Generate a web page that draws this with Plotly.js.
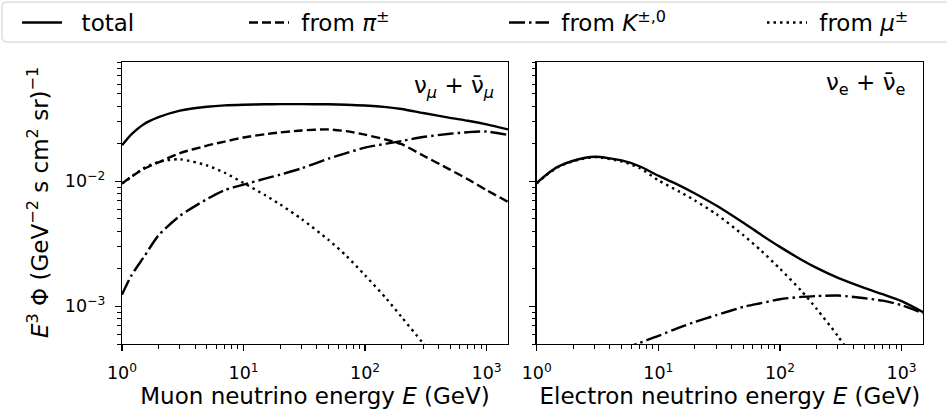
<!DOCTYPE html>
<html>
<head>
<meta charset="utf-8">
<script src="https://cdn.plot.ly/plotly-3.0.1.min.js"></script>
<style>
html, body { margin: 0; padding: 0; background: #ffffff; }
#chart { width: 947px; height: 417px; }
</style>
</head>
<body>
<div id="chart"></div>
<script>
// ---- data ----
const energy = [1, 1.2, 1.5, 2, 3, 5, 7, 10, 15, 20, 30, 50, 70, 100, 150, 200, 300, 500, 700, 1000, 1500];

// muon neutrinos
const muonTotal = [0.0194, 0.0238, 0.0285, 0.0326, 0.0368, 0.0395, 0.0405, 0.0410, 0.0413, 0.0414, 0.0414, 0.0413, 0.0410, 0.0404, 0.0392, 0.0379, 0.0352, 0.0322, 0.0305, 0.0285, 0.0260];
const muonFromPion = [0.0096, 0.0109, 0.0125, 0.0142, 0.0168, 0.0193, 0.0208, 0.0224, 0.0238, 0.0246, 0.0255, 0.0260, 0.0252, 0.0236, 0.0215, 0.0198, 0.0161, 0.0124, 0.0104, 0.0085, 0.00685];
const muonFromKaon = [0.00124, 0.00178, 0.00245, 0.0037, 0.0053, 0.0072, 0.0085, 0.0094, 0.0105, 0.0113, 0.0127, 0.0152, 0.0168, 0.0186, 0.0200, 0.0210, 0.0226, 0.0240, 0.0247, 0.0250, 0.0235];
const muonFromMuon = [0.0096, 0.0109, 0.0127, 0.0143, 0.0150, 0.0134, 0.0117, 0.0097, 0.00776, 0.00653, 0.0050, 0.0034, 0.00254, 0.00177, 0.00115, 0.00082, 0.000506, 0.00026, null, null, null];

// electron neutrinos
const elecTotal = [0.0097, 0.0113, 0.0131, 0.0146, 0.0157, 0.0147, 0.0132, 0.0111, 0.00925, 0.0080, 0.0064, 0.00466, 0.00374, 0.00299, 0.00236, 0.00203, 0.00169, 0.00140, 0.00125, 0.00110, 0.00090];
const elecFromPion = [null, null, null, null, null, null, null, null, null, null, null, null, null, null, null, null, null, null, null, null, null];
const elecFromKaon = [null, null, null, null, null, 0.00045, 0.00051, 0.00058, 0.00068, 0.00075, 0.00085, 0.00099, 0.00106, 0.00114, 0.00119, 0.00121, 0.00122, 0.00116, 0.00111, 0.00102, 0.00088];
const elecFromMuon = [0.0096, 0.0112, 0.0130, 0.0145, 0.0156, 0.0144, 0.0128, 0.0102, 0.00824, 0.00702, 0.00546, 0.00371, 0.00279, 0.0020, 0.00133, 0.000957, 0.000577, 0.00028, null, null, null];

const seriesNames = ['total', 'from <i>π</i><sup>±</sup>', 'from <i>K</i><sup>±,0</sup>', 'from <i>μ</i><sup>±</sup>'];
const panelLabels = ['ν<sub><i>μ</i></sub> + ν̄<sub><i>μ</i></sub>', 'ν<sub>e</sub> + ν̄<sub>e</sub>'];
const xTitles = ['Muon neutrino energy <i>E</i> (GeV)', 'Electron neutrino energy <i>E</i> (GeV)'];
const yTitle = '<i>E</i><sup>3</sup> Φ (GeV<sup>−2</sup> s cm<sup>2</sup> sr)<sup>−1</sup>';

const xTickVals = [1, 10, 100, 1000];
const xTickText = ['10<sup>0</sup>', '10<sup>1</sup>', '10<sup>2</sup>', '10<sup>3</sup>'];
const yTickVals = [0.001, 0.01];
const yTickText = ['10<sup>−3</sup>', '10<sup>−2</sup>'];

// ---- styling ----
const FONT = 'DejaVu Sans';
const LW = 2.4;
const dashes = ['solid', '9px,4px', '16px,4px,2.5px,4px', '2.5px,4px'];
const legendIds = ['legend', 'legend2', 'legend3', 'legend4'];
const legendGap = [2, 1, 1, 1];            // non-breaking spaces between handle and label
const legendX = [17, 244, 504, 762];        // px

function minorTicks(decades, lo, hi) {
  const out = [];
  decades.forEach(d => { for (let m = 2; m <= 9; m++) { const v = +(m * d).toPrecision(3); if (v >= lo && v <= hi) out.push(v); } });
  return out;
}
const xMinor = minorTicks([1, 10, 100, 1000], 1, 1500);
const yMinor = minorTicks([1e-4, 1e-3, 1e-2], 5e-4, 0.09);

const panels = [
  { xa: 'x', ya: 'y', series: [muonTotal, muonFromPion, muonFromKaon, muonFromMuon] },
  { xa: 'x2', ya: 'y2', series: [elecTotal, elecFromPion, elecFromKaon, elecFromMuon] }
];

const traces = [];
panels.forEach((p, pi) => {
  p.series.forEach((vals, si) => {
    traces.push({
      type: 'scatter', mode: 'lines',
      x: energy, y: vals,
      xaxis: p.xa, yaxis: p.ya,
      name: '\u00a0'.repeat(legendGap[si]) + seriesNames[si],
      legend: legendIds[si],
      showlegend: pi === 0,
      connectgaps: false,
      line: { color: '#000000', width: LW, dash: dashes[si], shape: 'spline', smoothing: 0.7 },
      hoverinfo: 'skip'
    });
  });
});

const common = {
  type: 'log', showgrid: false, zeroline: false,
  showline: true, linecolor: '#000000', linewidth: 1.3, mirror: true,
  ticks: 'outside', ticklen: 6, tickwidth: 1.2, tickcolor: '#000000',
  tickfont: { family: FONT, size: 17.5, color: '#000000' }
};
const xRange = [0, Math.log10(1500)];
const yRange = [Math.log10(5e-4), Math.log10(0.09)];

function xAxis(domain, anchor, title) {
  return Object.assign({}, common, {
    domain: domain, anchor: anchor, range: xRange,
    tickmode: 'array', tickvals: xTickVals, ticktext: xTickText,
    ticklabelstandoff: 7,
    minor: { tickmode: 'array', tickvals: xMinor, ticks: 'outside', ticklen: 3.5, tickwidth: 1, tickcolor: '#000000', showgrid: false },
    title: { text: title, font: { family: FONT, size: 23, color: '#000000' }, standoff: 5 }
  });
}
function yAxis(anchor, showLabels) {
  return Object.assign({}, common, {
    anchor: anchor, range: yRange, domain: [0, 1],
    tickmode: 'array', tickvals: yTickVals, ticktext: yTickText,
    showticklabels: showLabels, ticklabelstandoff: 6,
    minor: { tickmode: 'array', tickvals: yMinor, ticks: 'outside', ticklen: 3.5, tickwidth: 1, tickcolor: '#000000', showgrid: false }
  });
}

// legend frame (rounded rectangle in paper coordinates)
const ML = 122, MR = 24, MT = 62, MB = 73, W = 947, H = 417;
const PW = W - ML - MR, PH = H - MT - MB;
const px2x = v => (v - ML) / PW;
const py2y = v => (H - MB - v) / PH;
const fx0 = px2x(2), fx1 = px2x(957), fy0 = py2y(42), fy1 = py2y(2);
const rx = 4 / PW, ry = 4 / PH;
const framePath = `M${fx0 + rx},${fy1} L${fx1 - rx},${fy1} Q${fx1},${fy1} ${fx1},${fy1 - ry} L${fx1},${fy0 + ry} Q${fx1},${fy0} ${fx1 - rx},${fy0} L${fx0 + rx},${fy0} Q${fx0},${fy0} ${fx0},${fy0 + ry} L${fx0},${fy1 - ry} Q${fx0},${fy1} ${fx0 + rx},${fy1} Z`;

const layout = {
  width: W, height: H,
  margin: { l: ML, r: MR, t: MT, b: MB, pad: 0 },
  paper_bgcolor: '#ffffff', plot_bgcolor: '#ffffff',
  font: { family: FONT, size: 17, color: '#000000' },
  xaxis: xAxis([0, 386 / PW], 'y', xTitles[0]),
  xaxis2: xAxis([(536.7 - ML) / PW, 1], 'y2', xTitles[1]),
  yaxis: yAxis('x', true),
  yaxis2: Object.assign(yAxis('x2', false), { matches: 'y' }),
  shapes: [{ type: 'path', xref: 'paper', yref: 'paper', path: framePath, line: { color: '#cccccc', width: 1 }, fillcolor: 'rgba(255,255,255,0)', layer: 'below' }],
  annotations: [
    { xref: 'paper', yref: 'paper', x: px2x(38), y: 0.5, xanchor: 'center', yanchor: 'middle', textangle: -90, text: yTitle, showarrow: false, font: { family: FONT, size: 23, color: '#000000' } },
    { xref: 'x domain', yref: 'y domain', x: 0.968, y: 0.91, xanchor: 'right', yanchor: 'middle', text: panelLabels[0], showarrow: false, font: { family: FONT, size: 23, color: '#000000' } },
    { xref: 'x2 domain', yref: 'y2 domain', x: 0.962, y: 0.922, xanchor: 'right', yanchor: 'middle', text: panelLabels[1], showarrow: false, font: { family: FONT, size: 23, color: '#000000' } }
  ]
};
legendIds.forEach((id, i) => {
  layout[id] = {
    orientation: 'h', xref: 'container', yref: 'container',
    x: legendX[i] / W, y: 1 - 1 / H, xanchor: 'left', yanchor: 'top',
    bgcolor: 'rgba(0,0,0,0)', borderwidth: 0, itemwidth: 40,
    font: { family: FONT, size: 23, color: '#000000' }
  };
});

Plotly.newPlot('chart', traces, layout, { displayModeBar: false, staticPlot: true });
</script>
</body>
</html>
